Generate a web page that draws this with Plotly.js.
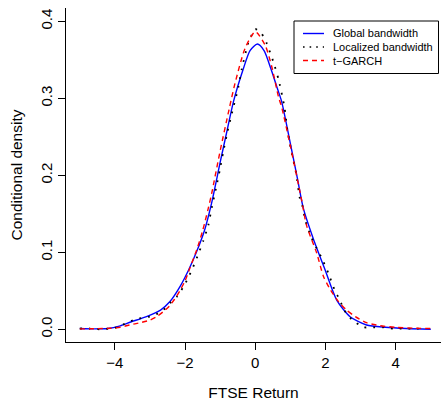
<!DOCTYPE html>
<html>
<head>
<meta charset="utf-8">
<script src="https://cdn.plot.ly/plotly-3.0.1.min.js"></script>
<style>html,body{margin:0;padding:0;background:#fff;}#chart{width:441px;height:401px;}</style>
</head>
<body>
<div id="chart"></div>
<script>
// Global bandwidth (blue solid)
var globalX = [-5, -4.6, -4.2, -3.85, -3.55, -3.1, -2.7, -2.43, -2.15, -1.9, -1.67, -1.45, -1.25, -1.0, -0.8, -0.62, -0.35, -0.15, 0.06, 0.25, 0.44, 0.62, 0.75, 1.0, 1.2, 1.37, 1.65, 1.99, 2.32, 2.7, 3.17, 3.7, 4.3, 5];
var globalY = [0.001, 0.0005, 0.001, 0.0045, 0.0095, 0.0165, 0.025, 0.036, 0.055, 0.077, 0.101, 0.128, 0.163, 0.217, 0.259, 0.296, 0.337, 0.362, 0.3705, 0.362, 0.339, 0.314, 0.296, 0.241, 0.196, 0.157, 0.118, 0.077, 0.038, 0.0164, 0.0056, 0.0026, 0.001, 0.0];

// Localized bandwidth (black dotted)
var localX = [-5, -4.71, -4.43, -4.14, -3.9, -3.66, -3.38, -3.09, -2.86, -2.62, -2.43, -2.24, -2.05, -1.91, -1.77, -1.62, -1.48, -1.34, -1.24, -1.12, -1.01, -0.91, -0.79, -0.67, -0.48, -0.39, -0.2, 0, 0.18, 0.32, 0.51, 0.66, 0.83, 0.92, 1.04, 1.16, 1.27, 1.35, 1.42, 1.61, 1.75, 1.89, 2.08, 2.27, 2.41, 2.51, 2.65, 2.87, 3.08, 3.36, 3.65, 3.93, 4.22, 4.5, 4.79];
var localY = [0.001, 0.001, 0.0, 0.001, 0.003, 0.0086, 0.0134, 0.0156, 0.0186, 0.025, 0.034, 0.042, 0.055, 0.067, 0.081, 0.098, 0.115, 0.135, 0.158, 0.183, 0.207, 0.231, 0.257, 0.280, 0.315, 0.337, 0.372, 0.390, 0.384, 0.372, 0.348, 0.325, 0.289, 0.257, 0.229, 0.203, 0.170, 0.159, 0.142, 0.118, 0.105, 0.093, 0.073, 0.050, 0.038, 0.027, 0.017, 0.0086, 0.0026, 0.0026, 0.0026, 0.001, 0.001, 0.001, 0.001];

// t-GARCH (red dashed)
var garchX = [-5, -4.5, -4.14, -3.85, -3.58, -3.28, -3.0, -2.81, -2.62, -2.45, -2.3, -2.15, -2.0, -1.86, -1.67, -1.5, -1.34, -1.24, -1.0, -0.74, -0.58, -0.29, 0, 0.28, 0.47, 0.66, 0.75, 1.0, 1.32, 1.46, 1.75, 1.94, 2.13, 2.37, 2.6, 2.85, 3.17, 3.55, 4.0, 4.5, 5];
var garchY = [0.0005, 0.0008, 0.0013, 0.0026, 0.0056, 0.0086, 0.012, 0.0164, 0.023, 0.030, 0.039, 0.050, 0.063, 0.080, 0.103, 0.128, 0.157, 0.177, 0.232, 0.287, 0.319, 0.365, 0.3865, 0.369, 0.341, 0.302, 0.289, 0.238, 0.168, 0.135, 0.099, 0.069, 0.052, 0.036, 0.025, 0.0164, 0.0086, 0.0047, 0.0025, 0.0015, 0.001];

var seriesNames = ["Global bandwidth", "Localized bandwidth", "t\u2212GARCH"];
var xTickVals = [-4, -2, 0, 2, 4];
var yTickVals = [0.0, 0.1, 0.2, 0.3, 0.4];

var FONT = "Liberation Sans, Arial, Helvetica, sans-serif";
var W = 441, H = 401;
var mL = 66, mR = 0, mT = 8, mB = 59;
function px(x) { return (x - mL) / (W - mL - mR); }
function py(y) { return (H - mB - y) / (H - mT - mB); }

var styles = [
  {color: "#0000ff", width: 1.4, dash: "solid"},
  {color: "#000000", width: 1.8, dash: "1.8px,7px"},
  {color: "#ff0000", width: 1.4, dash: "5px,4px"}
];

var traces = [
  {x: globalX, y: globalY, type: "scatter", mode: "lines", name: seriesNames[0],
   line: {color: styles[0].color, width: styles[0].width, dash: styles[0].dash, shape: "spline", smoothing: 0.7}},
  {x: localX, y: localY, type: "scatter", mode: "lines", name: seriesNames[1],
   line: {color: styles[1].color, width: styles[1].width, dash: styles[1].dash, shape: "spline", smoothing: 0.5}},
  {x: garchX, y: garchY, type: "scatter", mode: "lines", name: seriesNames[2],
   line: {color: styles[2].color, width: styles[2].width, dash: styles[2].dash, shape: "spline", smoothing: 0.7}}
];

// manual legend
var shapes = [{type: "rect", xref: "paper", yref: "paper", x0: px(294), x1: px(438.5), y0: py(73.5), y1: py(21),
  line: {color: "#000", width: 1}, fillcolor: "#fff", layer: "above"}];
var annotations = [];
var rowY = [33.5, 47, 60.5];
for (var i = 0; i < 3; i++) {
  shapes.push({type: "line", xref: "paper", yref: "paper", x0: px(303), x1: px(324), y0: py(rowY[i]), y1: py(rowY[i]),
    line: {color: styles[i].color, width: i === 1 ? 1.6 : styles[i].width, dash: i === 1 ? "1.6px,5px" : styles[i].dash}, layer: "above"});
  annotations.push({xref: "paper", yref: "paper", x: px(331), y: py(rowY[i]), xanchor: "left", yanchor: "middle",
    text: seriesNames[i], showarrow: false, font: {family: FONT, size: 11, color: "#000"}});
}

var layout = {
  width: W, height: H,
  margin: {l: mL, r: mR, t: mT, b: mB, pad: 0},
  paper_bgcolor: "#fff", plot_bgcolor: "#fff",
  showlegend: false,
  font: {family: FONT, size: 15, color: "#000"},
  xaxis: {
    range: [-5.393, 5.291], tickvals: xTickVals, ticks: "outside", ticklen: 7, tickwidth: 1, tickcolor: "#000",
    showline: true, linecolor: "#000", linewidth: 1, showgrid: false, zeroline: false,
    tickfont: {family: FONT, size: 15, color: "#000"},
    title: {text: "FTSE Return", font: {family: FONT, size: 15.5, color: "#000"}, standoff: 19}
  },
  yaxis: {
    range: [-0.0165, 0.4173], tickvals: yTickVals, tickformat: ".1f", ticks: "outside", ticklen: 7, tickwidth: 1, tickcolor: "#000",
    tickangle: -90,
    showline: true, linecolor: "#000", linewidth: 1, showgrid: false, zeroline: false,
    tickfont: {family: FONT, size: 15, color: "#000"},
    title: {text: "Conditional density", font: {family: FONT, size: 15.5, color: "#000"}, standoff: 11}
  },
  shapes: shapes,
  annotations: annotations
};

Plotly.newPlot("chart", traces, layout, {displayModeBar: false, staticPlot: true});
</script>
</body>
</html>
